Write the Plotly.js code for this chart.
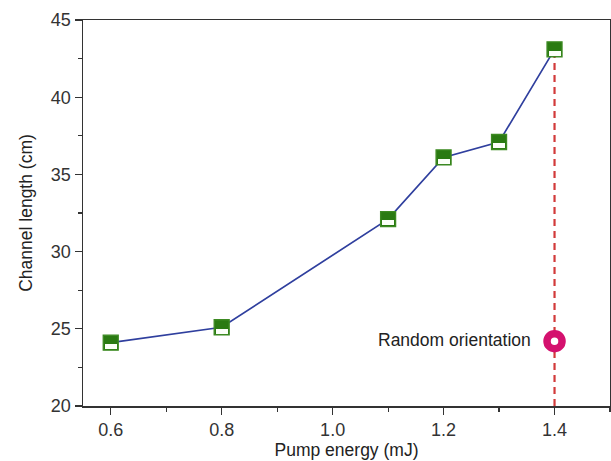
<!DOCTYPE html>
<html><head><meta charset="utf-8">
<script src="https://cdn.plot.ly/plotly-3.0.1.min.js"></script>
<style>html,body{margin:0;padding:0;background:#fff}#c{width:611px;height:461px}</style>
</head><body><div id="c"></div>
<script>
const pumpEnergy = [0.6, 0.8, 1.1, 1.2, 1.3, 1.4];
const channelLength = [24.1, 25.1, 32.1, 36.1, 37.1, 43.1];
const randomX = [1.4];
const randomY = [24.2];
const randomLabel = 'Random orientation';
const xTicks = [0.6, 0.8, 1.0, 1.2, 1.4];
const xTickText = ['0.6', '0.8', '1.0', '1.2', '1.4'];
const yTicks = [20, 25, 30, 35, 40, 45];

const green = '#2a7a12';
const fam = 'Liberation Sans, Arial, sans-serif';

const traces = [
  {x: pumpEnergy, y: channelLength, mode: 'lines', line: {color: '#2f3f9e', width: 1.7}, hoverinfo: 'skip'},
  {x: [randomX[0], randomX[0]], y: [20, channelLength[channelLength.length - 1]], mode: 'lines',
   line: {color: '#d23a3a', width: 2.2, dash: '7px,5px'}, hoverinfo: 'skip'},
  {x: pumpEnergy, y: channelLength, mode: 'markers',
   marker: {symbol: 'square', size: 15, color: green, line: {color: '#3d8a22', width: 1.3}}},
  {x: randomX, y: randomY, mode: 'markers',
   marker: {symbol: 'circle', size: 15, color: '#ffffff', line: {color: '#d4116e', width: 7.5}}}
];

const annotations = pumpEnergy.map((xv, i) => ({
  x: xv, y: channelLength[i], xref: 'x', yref: 'y', text: ' ', showarrow: false,
  width: 12, height: 5, bgcolor: '#fbfff8', borderpad: 0, borderwidth: 0,
  yshift: -3.8, font: {size: 2}
}));
annotations.push({
  x: randomX[0], y: randomY[0], xref: 'x', yref: 'y', text: randomLabel, showarrow: false,
  xanchor: 'right', xshift: -22, yshift: 1, font: {family: fam, size: 17.5, color: '#222'}
});

const layout = {
  width: 611, height: 461,
  margin: {l: 83, r: 1, t: 20, b: 55},
  paper_bgcolor: '#fff', plot_bgcolor: '#fff',
  showlegend: false,
  font: {family: fam, size: 17, color: '#222'},
  xaxis: {
    range: [0.55, 1.5], tickvals: xTicks, ticktext: xTickText,
    ticks: 'outside', ticklen: 7, tickwidth: 1.3, tickcolor: '#333',
    minor: {dtick: 0.1, tick0: 0.5, ticks: 'outside', ticklen: 4, tickwidth: 1.2, tickcolor: '#333'},
    showline: true, linecolor: '#333', linewidth: 1.5, mirror: true,
    showgrid: false, zeroline: false,
    tickfont: {size: 18, family: fam, color: '#333'},
    title: {text: 'Pump energy (mJ)', font: {size: 17.5, family: fam, color: '#222'}, standoff: 4}
  },
  yaxis: {
    range: [20, 45], tickvals: yTicks,
    ticks: 'outside', ticklen: 7, tickwidth: 1.3, tickcolor: '#333',
    minor: {dtick: 2.5, tick0: 20, ticks: 'outside', ticklen: 4, tickwidth: 1.2, tickcolor: '#333'},
    showline: true, linecolor: '#333', linewidth: 1.5, mirror: true,
    showgrid: false, zeroline: false,
    tickfont: {size: 18, family: fam, color: '#333'},
    title: {text: 'Channel length (cm)', font: {size: 17.5, family: fam, color: '#222'}, standoff: 13}
  },
  annotations: annotations
};

Plotly.newPlot('c', traces, layout, {displayModeBar: false, staticPlot: true});
</script>
</body></html>
